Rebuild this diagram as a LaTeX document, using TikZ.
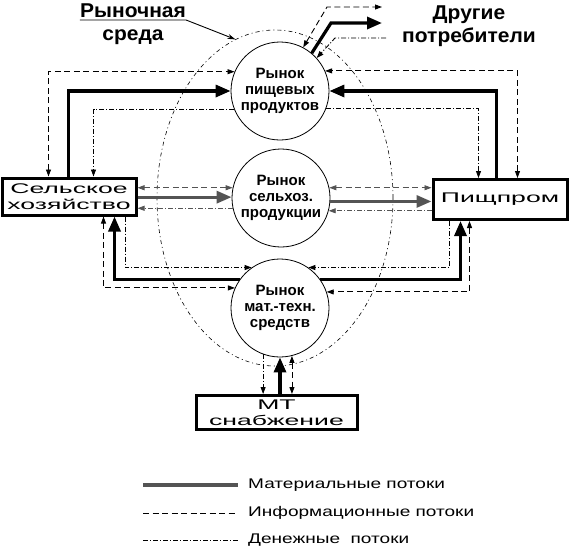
\documentclass[tikz,border=0pt]{standalone}
\usepackage{fontspec}
\setmainfont{Liberation Sans}
\newfontfamily\boxfont[FakeStretch=1.9]{Liberation Sans}
\newfontfamily\legfont[FakeStretch=1.36]{Liberation Sans}
\newfontfamily\titlefont[FakeStretch=1.05]{Liberation Sans}
\usetikzlibrary{arrows.meta, shapes.geometric}
\definecolor{flowgray}{gray}{0.33}

\begin{document}
\begin{tikzpicture}[x=1pt, y=-1pt,
  mkt/.style={circle, draw, line width=0.8pt, minimum size=98pt, inner sep=0pt, align=center,
    font=\bfseries\fontsize{15}{16}\selectfont},
  unit/.style={draw, line width=3pt, inner sep=0pt, align=center,
    font=\boxfont\fontsize{14}{16}\selectfont},
  title/.style={inner sep=0pt, align=center, font=\titlefont\bfseries\fontsize{20}{23}\selectfont},
  leg/.style={inner sep=0pt, anchor=west, font=\legfont\fontsize{14}{15}\selectfont},
  mat/.style={line width=3.2pt, -{Triangle[length=15pt,width=12pt]}},
  info/.style={line width=0.9pt, dash pattern=on 6pt off 3.5pt,
    {Triangle[length=7pt,width=5pt]}-{Triangle[length=7pt,width=5pt]}},
  money/.style={line width=0.9pt, dash pattern=on 5pt off 2pt on 1pt off 2pt,
    -{Triangle[length=7pt,width=5pt]}},
  env/.style={ellipse, draw, line width=0.6pt, dash pattern=on 4pt off 3pt on 1pt off 3pt, inner sep=0pt}]
  \useasboundingbox (0,0) rectangle (570,550);
  % 1. Рыночная среда
  \node[env, minimum width=236pt, minimum height=336pt] (envr) at (275,198) {};
  \node[title] (envtxt) at (133,24) {Рыночная\\среда};
  \draw[line width=0.9pt, -{Stealth[length=8pt,width=5pt]}] ([yshift=4pt]envtxt.west) -- ([yshift=4pt]envtxt.east) -- (envr.104);
  \node[title] (cons) at (469,26) {Другие\\потребители};
  % 2. Рынки и участники
  \node[mkt] (food) at (280,91) {Рынок\\пищевых\\продуктов};
  \node[mkt] (mid) at (281,198) {Рынок\\сельхоз.\\продукции};
  \node[mkt] (bot) at (280,308) {Рынок\\мат.-техн.\\средств};
  \node[unit, minimum width=134pt, minimum height=37pt] (agri) at (69,196.5) {Сельское\\хозяйство};
  \node[unit, minimum width=134pt, minimum height=40pt] (prom) at (500,199.5) {Пищпром};
  \node[unit, minimum width=161pt, minimum height=34pt] (mt) at (276.5,412.5) {МТ\\снабжение};
  % 3. Другие потребители
  \coordinate (oinfo) at (382,7);
  \coordinate (omat) at (382,23);
  \coordinate (omoney) at (386,38);
  \draw[info] (food.62) -- ([xshift=-55pt]oinfo) -- (oinfo);
  \draw[mat] (food.50) -- ([xshift=-51pt]omat) -- (omat);
  \draw[money] (omoney) -- ([xshift=-51pt]omoney) -- (food.42);
  % 4. Рынок пищевых продуктов
  \draw[info] ([xshift=48pt]agri.north west) |- (food.157);
  \draw[mat] ([xshift=68pt]agri.north west) |- (food.west);
  \draw[money] (food.202) -| ([xshift=93pt]agri.north west);
  \draw[info] ([xshift=-51pt]prom.north east) |- (food.24);
  \draw[mat] ([xshift=-72pt]prom.north east) |- (food.east);
  \draw[money] (food.339) -| ([xshift=-90pt]prom.north east);
  % 5. Рынок сельхоз. продукции
  \draw[info, flowgray] (agri.east |- mid.168) -- (mid.168);
  \draw[mat, flowgray] (agri.east |- mid.179) -- (mid.179);
  \draw[money, flowgray] (mid.192) -- (agri.east |- mid.192);
  \draw[info, flowgray] (mid.12) -- (prom.west |- mid.12);
  \draw[mat, flowgray] (mid.356) -- (prom.west |- mid.356);
  \draw[money, flowgray] (prom.west |- mid.345) -- (mid.345);
  % 6. Рынок мат.-техн. средств
  \draw[money] ([xshift=125pt]agri.south west) |- (bot.125);
  \draw[mat] (bot.145) -| ([xshift=114pt]agri.south west);
  \draw[info] ([xshift=103pt]agri.south west) |- (bot.156);
  \draw[money] ([xshift=-119pt]prom.south east) |- (bot.55);
  \draw[mat] (bot.35) -| ([xshift=-108pt]prom.south east);
  \draw[info] ([xshift=-99pt]prom.south east) |- (bot.19);
  \draw[money] (bot.250) -- (bot.250 |- mt.north);
  \draw[mat] (bot.south |- mt.north) -- (bot.south);
  \draw[info] (bot.284) -- (bot.284 |- mt.north);
  % 7. Легенда
  \node[leg] (lmat) at (248,485) {Материальные потоки};
  \node[leg] (linfo) at (248,513) {Информационные потоки};
  \node[leg] (lmoney) at (248,540) {Денежные\ \ потоки};
  \draw[line width=3.5pt, flowgray] ([xshift=-105pt]lmat.west) -- ([xshift=-10pt]lmat.west);
  \draw[line width=0.8pt, dash pattern=on 6pt off 3.5pt] ([xshift=-105pt]linfo.west) -- ([xshift=-10pt]linfo.west);
  \draw[line width=0.8pt, dash pattern=on 5pt off 2pt on 1pt off 2pt] ([xshift=-105pt]lmoney.west) -- ([xshift=-10pt]lmoney.west);
\end{tikzpicture}
\end{document}
